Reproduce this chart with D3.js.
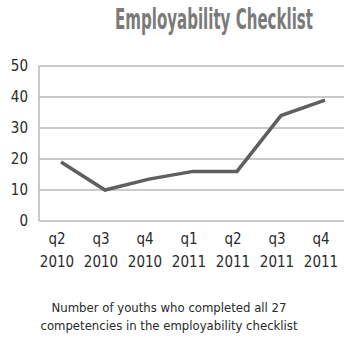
<!DOCTYPE html>
<html>
<head>
<meta charset="utf-8">
<script src="https://cdn.jsdelivr.net/npm/d3@7"></script>
<style>
  body { margin: 0; background: #fff; }
  svg text { font-family: "Liberation Sans Narrow", "DejaVu Sans Condensed", sans-serif; }
</style>
</head>
<body>
<svg id="chart" width="344" height="341"></svg>
<script>
// data
const quarters = ["q2", "q3", "q4", "q1", "q2", "q3", "q4"];
const years = ["2010", "2010", "2010", "2011", "2011", "2011", "2011"];
const completed = [19, 10, 13.5, 16, 16, 34, 39];
const yTicks = [0, 10, 20, 30, 40, 50];

const svg = d3.select("#chart");
const plotLeft = 39, plotRight = 347, plotTop = 66, plotBottom = 221;

const x = d3.scaleBand()
    .domain(d3.range(quarters.length))
    .range([plotLeft, plotRight]);
const y = d3.scaleLinear()
    .domain([0, 50])
    .range([plotBottom, plotTop]);

// title: condensed look by squeezing it horizontally
const title = svg.append("text")
    .attr("text-anchor", "middle")
    .attr("font-size", 28)
    .attr("font-weight", "bold")
    .attr("fill", "#7a7a7a")
    .text("Employability Checklist");
const titleW = title.node().getComputedTextLength();
title.attr("transform", `translate(214,29) scale(${198 / titleW},1)`);

// gridlines
svg.selectAll("line.grid")
    .data(yTicks)
    .join("line")
    .attr("class", "grid")
    .attr("x1", plotLeft).attr("x2", 344)
    .attr("y1", d => y(d)).attr("y2", d => y(d))
    .attr("stroke", "#b9b9b9")
    .attr("stroke-width", 1.5);

// left axis line
svg.append("line")
    .attr("x1", plotLeft).attr("x2", plotLeft)
    .attr("y1", y(50)).attr("y2", y(0))
    .attr("stroke", "#b9b9b9")
    .attr("stroke-width", 1.5);

// y tick labels
svg.selectAll("text.ytick")
    .data(yTicks)
    .join("text")
    .attr("class", "ytick")
    .attr("x", 28)
    .attr("y", d => y(d) + 5)
    .attr("text-anchor", "end")
    .attr("font-size", 15)
    .attr("fill", "#2a2a2a")
    .text(d => d);

// x labels, two rows
const xl = svg.selectAll("g.xlab")
    .data(quarters)
    .join("g")
    .attr("class", "xlab")
    .attr("transform", (d, i) => `translate(${x(i) + x.bandwidth() / 2 - 4},0)`);
xl.append("text")
    .attr("y", 244)
    .attr("text-anchor", "middle")
    .attr("font-size", 15)
    .attr("fill", "#2a2a2a")
    .text(d => d);
xl.append("text")
    .attr("y", 267)
    .attr("text-anchor", "middle")
    .attr("font-size", 15)
    .attr("fill", "#2a2a2a")
    .text((d, i) => years[i]);

// the line
const line = d3.line()
    .x((d, i) => x(i) + x.bandwidth() / 2)
    .y(d => y(d));
svg.append("path")
    .datum(completed)
    .attr("d", line)
    .attr("fill", "none")
    .attr("stroke", "#5f5f5f")
    .attr("stroke-width", 3.5)
    .attr("stroke-linejoin", "miter");

// caption
const caption = ["Number of youths who completed all 27", "competencies in the employability checklist"];
svg.selectAll("text.cap")
    .data(caption)
    .join("text")
    .attr("class", "cap")
    .attr("x", 169)
    .attr("y", (d, i) => 312 + i * 18)
    .attr("text-anchor", "middle")
    .attr("font-size", 13)
    .attr("fill", "#2a2a2a")
    .text(d => d);
</script>
</body>
</html>
